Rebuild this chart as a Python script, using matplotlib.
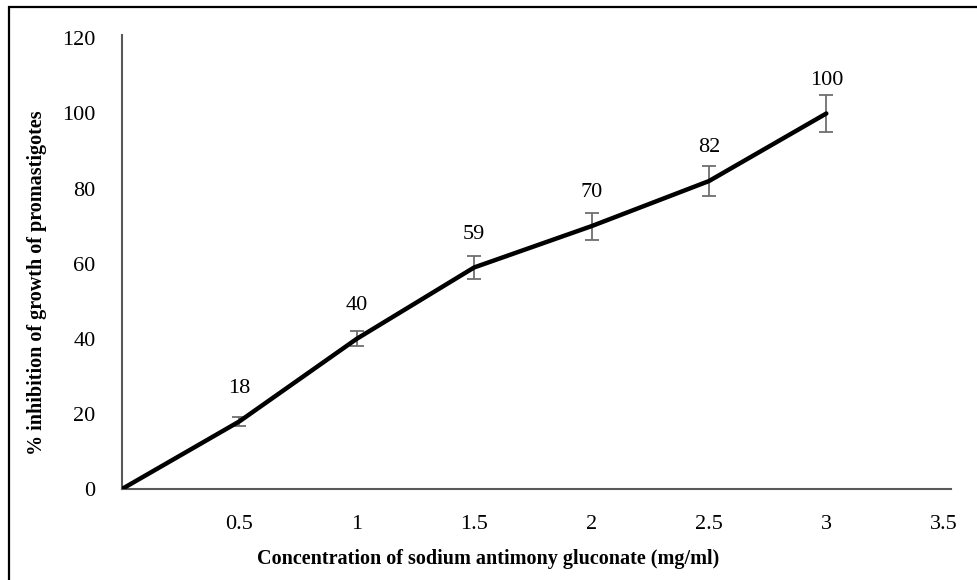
import matplotlib.pyplot as plt
from matplotlib.patches import Rectangle

plt.rcParams['font.family'] = ['Liberation Serif', 'DejaVu Serif']

# concentration (mg/ml) vs % inhibition, with error bars
conc = [0, 0.5, 1, 1.5, 2, 2.5, 3]
inhibition = [0, 18, 40, 59, 70, 82, 100]
err = [0, 1.1, 2, 3, 3.6, 4.1, 5]
xticks = [0.5, 1, 1.5, 2, 2.5, 3, 3.5]
yticks = [0, 20, 40, 60, 80, 100, 120]

fig = plt.figure(figsize=(9.77, 5.8), dpi=100)
ax = fig.add_axes([122/977, 1 - 489/580, (951 - 122)/977, (489 - 35)/580])

# outer frame (cropped on the right and bottom)
fig.patches.append(Rectangle((8.5/977, -0.1), 1.2, 1 - 6.5/580 + 0.1,
                             transform=fig.transFigure, fill=False,
                             edgecolor='black', linewidth=1.6))

ax.plot(conc, inhibition, color='black', linewidth=3.2, solid_capstyle='round', zorder=3)
ax.errorbar(conc[1:], inhibition[1:], yerr=err[1:], fmt='none', ecolor='#6e6e6e',
            elinewidth=1.3, capsize=5, capthick=1.3, zorder=2)

for xv, yv in zip(conc[1:], inhibition[1:]):
    ax.annotate(str(yv), (xv, yv), xytext=(0, 24), textcoords='offset points',
                ha='center', va='center', fontsize=16)

ax.set_xlim(0, 3.531)
ax.set_ylim(0, 120.9)
ax.set_xticks(xticks)
ax.set_xticklabels([str(t) for t in xticks])
ax.set_yticks(yticks)
ax.tick_params(axis='both', length=0, labelsize=16)
ax.tick_params(axis='x', pad=18.5)
ax.tick_params(axis='y', pad=19)

for s in ['top', 'right']:
    ax.spines[s].set_visible(False)
for s in ['left', 'bottom']:
    ax.spines[s].set_color('#595959')
    ax.spines[s].set_linewidth(1.5)

ax.set_xlabel('Concentration of sodium antimony gluconate (mg/ml)', fontsize=14.5,
              fontweight='bold')
ax.xaxis.set_label_coords((488 - 122)/829, -(549 - 489)/454)
ax.set_ylabel('% inhibition of growth of promastigotes', fontsize=14.5,
              fontweight='bold')
ax.yaxis.set_label_coords(-(122 - 47)/829, (489 - 283)/454)

fig.savefig('out.png', dpi=100)
